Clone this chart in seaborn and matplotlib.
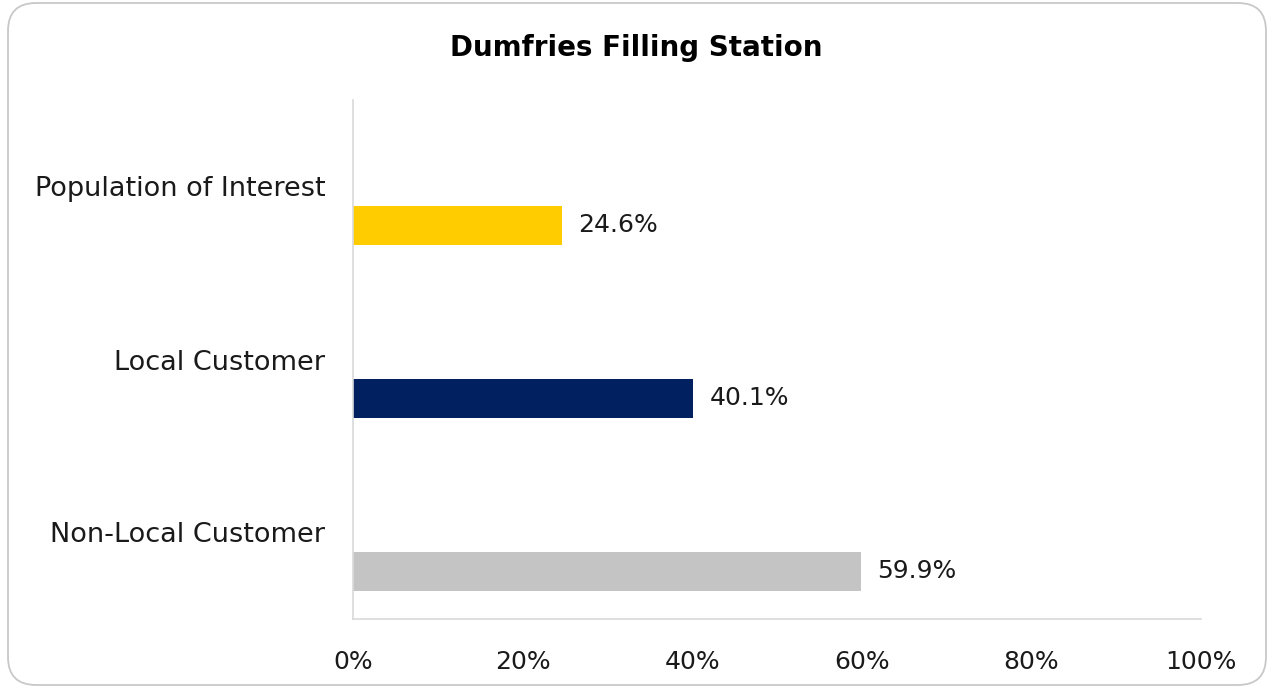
import matplotlib
matplotlib.use("Agg")
import matplotlib.pyplot as plt
from matplotlib.patches import FancyBboxPatch
from matplotlib.ticker import PercentFormatter
import seaborn as sns
import pandas as pd

categories = ["Population of Interest", "Local Customer", "Non-Local Customer"]
values = [24.6, 40.1, 59.9]
bar_colors = ["#FFCC00", "#002060", "#C4C4C4"]
x_ticks = [0, 20, 40, 60, 80, 100]
title = "Dumfries Filling Station"

sns.set_theme(style="white")
plt.rcParams["font.family"] = ["DejaVu Sans"]

df = pd.DataFrame({"category": categories, "value": values})

fig = plt.figure(figsize=(12.73, 6.89), dpi=100)
ax = fig.add_axes([353 / 1273, 1 - 619 / 689, (1201 - 353) / 1273, (619 - 100) / 689])

# bars sit in the lower part of each category band, label above
bar_h = 0.23
offset = 0.225
sns.barplot(data=df, x="value", y="category", hue="category",
            palette=bar_colors, width=bar_h, legend=False, ax=ax,
            saturation=1, orient="h", linewidth=0)

n = len(categories)
ax.set_ylim(n - 1 - offset + 0.5, -offset - 0.5)
ax.set_yticks([i - offset for i in range(n)])
ax.set_yticklabels(categories, fontsize=19.5, color="#1a1a1a")
ax.set_xlim(0, 100)
ax.set_xticks(x_ticks)
ax.xaxis.set_major_formatter(PercentFormatter(decimals=0))
ax.tick_params(axis="x", labelsize=18, colors="#1a1a1a", length=0, pad=22)
ax.tick_params(axis="y", length=0, pad=20)
ax.set_xlabel("")
ax.set_ylabel("")

for c in ax.containers:
    ax.bar_label(c, labels=[f"{v:.1f}%" for v in c.datavalues],
                 padding=12, fontsize=18, color="#1a1a1a")

for s in ["top", "right"]:
    ax.spines[s].set_visible(False)
for s in ["left", "bottom"]:
    ax.spines[s].set_color("#D9D9D9")
    ax.spines[s].set_linewidth(1.2)

fig.text(0.5, 1 - 48 / 689, title, ha="center", va="center",
         fontsize=20, fontweight="bold", color="#000000")

frame = FancyBboxPatch((8 / 1273, 4 / 689), (1266 - 8) / 1273, (686 - 4) / 689,
                       boxstyle="round,pad=0,rounding_size=0.022",
                       transform=fig.transFigure, fill=False,
                       edgecolor="#C8C8C8", linewidth=1.3,
                       mutation_aspect=1273 / 689)
fig.patches.append(frame)

fig.savefig("out.png", dpi=100)
